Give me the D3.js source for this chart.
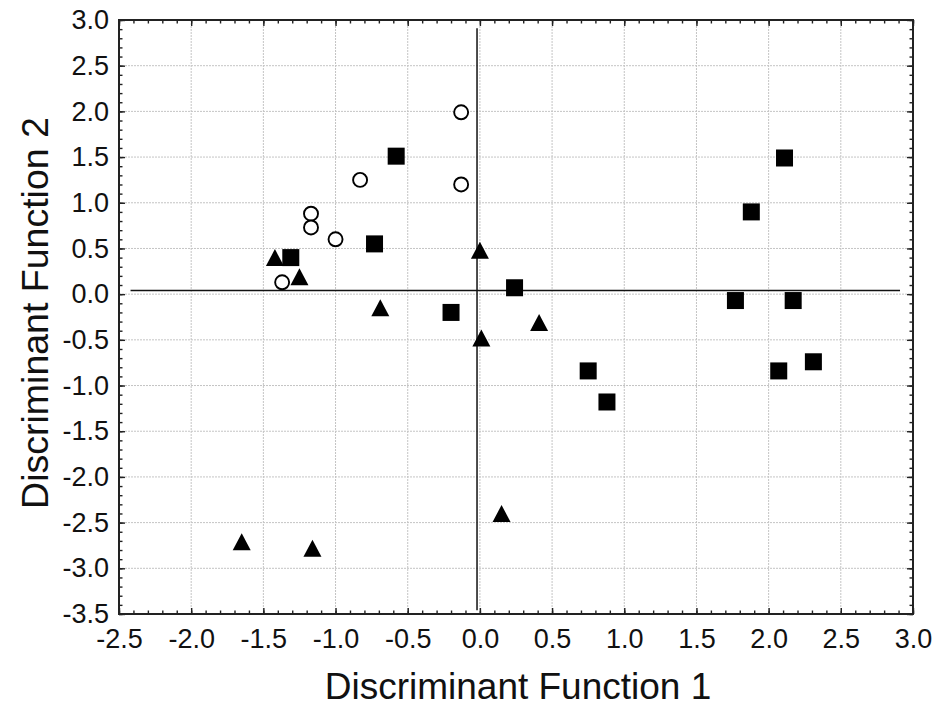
<!DOCTYPE html>
<html>
<head>
<meta charset="utf-8">
<script src="https://cdn.jsdelivr.net/npm/d3@7"></script>
<style>
    body { margin: 0; background: #fff; }
    svg { display: block; font-family: "Liberation Sans", Arial, sans-serif; }
</style>
</head>
<body>
<svg id="chart" width="936" height="710"></svg>
<script>
// group 1 - open circles
const circleX = [-0.13, -0.13, -0.83, -1.17, -1.17, -1.00, -1.37];
const circleY = [1.99, 1.20, 1.25, 0.88, 0.73, 0.60, 0.13];

// group 2 - filled squares
const squareX = [-0.58, -0.73, -1.31, 0.24, -0.20, 2.11, 1.88, 1.77, 2.17, 0.75, 0.88, 2.07, 2.31];
const squareY = [1.51, 0.55, 0.40, 0.07, -0.20, 1.49, 0.90, -0.07, -0.07, -0.84, -1.18, -0.84, -0.74];

// group 3 - filled triangles
const triangleX = [-1.42, -1.25, 0.00, -0.69, 0.01, 0.41, 0.15, -1.65, -1.16];
const triangleY = [0.40, 0.19, 0.48, -0.15, -0.48, -0.31, -2.40, -2.71, -2.78];

// origin reference lines
const hLine = { y: 0.04, x1: -2.42, x2: 2.91 };
const vLine = { x: -0.02, y1: 2.91, y2: -3.46 };

const xTicks = [-2.5, -2.0, -1.5, -1.0, -0.5, 0.0, 0.5, 1.0, 1.5, 2.0, 2.5, 3.0];
const yTicks = [-3.5, -3.0, -2.5, -2.0, -1.5, -1.0, -0.5, 0.0, 0.5, 1.0, 1.5, 2.0, 2.5, 3.0];

const xLabel = "Discriminant Function 1";
const yLabel = "Discriminant Function 2";

const pLeft = 119, pRight = 913, pTop = 20, pBottom = 614;

const svg = d3.select("#chart");

const x = d3.scaleLinear().domain([-2.5, 3.0]).range([pLeft, pRight]);
const y = d3.scaleLinear().domain([-3.5, 3.0]).range([pBottom, pTop]);

const fmt = d => d.toFixed(1);

// minor ticks every 0.1
const xMinor = d3.range(-25, 31).map(i => i / 10);
const yMinor = d3.range(-35, 31).map(i => i / 10);

// grid
const grid = svg.append("g");
grid.selectAll(".gx")
    .data(xTicks.slice(1, -1))
    .enter().append("line")
    .attr("x1", d => x(d)).attr("x2", d => x(d))
    .attr("y1", pTop).attr("y2", pBottom)
    .attr("stroke", "#c4c4c4")
    .attr("stroke-width", 1)
    .attr("stroke-dasharray", "2,1");
grid.selectAll(".gy")
    .data(yTicks.slice(1, -1))
    .enter().append("line")
    .attr("x1", pLeft).attr("x2", pRight)
    .attr("y1", d => y(d)).attr("y2", d => y(d))
    .attr("stroke", "#c4c4c4")
    .attr("stroke-width", 1)
    .attr("stroke-dasharray", "2,1");

// axes with inward ticks
function styleAxis(g) {
    g.select(".domain").remove();
    g.selectAll(".tick line").attr("stroke", "#222").attr("stroke-width", 1.4);
    g.selectAll("text")
        .attr("fill", "#111")
        .style("font-size", "27px")
        .style("font-family", "'Liberation Sans', Arial, sans-serif");
}

svg.append("g").attr("transform", `translate(0,${pBottom})`)
    .call(d3.axisBottom(x).tickValues(xMinor).tickFormat("").tickSize(-3.5))
    .call(styleAxis);
svg.append("g").attr("transform", `translate(0,${pBottom})`)
    .call(d3.axisBottom(x).tickValues(xTicks).tickFormat(fmt).tickSize(-6).tickPadding(15))
    .call(styleAxis);

svg.append("g").attr("transform", `translate(0,${pTop})`)
    .call(d3.axisTop(x).tickValues(xMinor).tickFormat("").tickSize(-3.5))
    .call(styleAxis);
svg.append("g").attr("transform", `translate(0,${pTop})`)
    .call(d3.axisTop(x).tickValues(xTicks).tickFormat("").tickSize(-6))
    .call(styleAxis);

svg.append("g").attr("transform", `translate(${pLeft},0)`)
    .call(d3.axisLeft(y).tickValues(yMinor).tickFormat("").tickSize(-3.5))
    .call(styleAxis);
svg.append("g").attr("transform", `translate(${pLeft},0)`)
    .call(d3.axisLeft(y).tickValues(yTicks).tickFormat(fmt).tickSize(-6).tickPadding(10))
    .call(styleAxis);

svg.append("g").attr("transform", `translate(${pRight},0)`)
    .call(d3.axisRight(y).tickValues(yMinor).tickFormat("").tickSize(-3.5))
    .call(styleAxis);
svg.append("g").attr("transform", `translate(${pRight},0)`)
    .call(d3.axisRight(y).tickValues(yTicks).tickFormat("").tickSize(-6))
    .call(styleAxis);

// frame
svg.append("rect")
    .attr("x", pLeft).attr("y", pTop)
    .attr("width", pRight - pLeft).attr("height", pBottom - pTop)
    .attr("fill", "none")
    .attr("stroke", "#222")
    .attr("stroke-width", 2);

// reference lines
svg.append("line")
    .attr("x1", x(hLine.x1)).attr("x2", x(hLine.x2))
    .attr("y1", y(hLine.y)).attr("y2", y(hLine.y))
    .attr("stroke", "#111").attr("stroke-width", 1.5);
svg.append("line")
    .attr("x1", x(vLine.x)).attr("x2", x(vLine.x))
    .attr("y1", y(vLine.y1)).attr("y2", y(vLine.y2))
    .attr("stroke", "#111").attr("stroke-width", 1.5);

// markers
const squares = squareX.map((v, i) => ({ x: v, y: squareY[i] }));
const triangles = triangleX.map((v, i) => ({ x: v, y: triangleY[i] }));
const circles = circleX.map((v, i) => ({ x: v, y: circleY[i] }));

// triangle 18 wide, 17 tall, centred on its box
const triPath = "M0,-8.5L9,8.5L-9,8.5Z";

svg.append("g").selectAll("path")
    .data(triangles)
    .enter().append("path")
    .attr("d", triPath)
    .attr("transform", d => `translate(${x(d.x)},${y(d.y)})`)
    .attr("fill", "#000");

svg.append("g").selectAll("rect")
    .data(squares)
    .enter().append("rect")
    .attr("x", d => x(d.x) - 8.5)
    .attr("y", d => y(d.y) - 8.5)
    .attr("width", 17)
    .attr("height", 17)
    .attr("fill", "#000");

svg.append("g").selectAll("circle")
    .data(circles)
    .enter().append("circle")
    .attr("cx", d => x(d.x))
    .attr("cy", d => y(d.y))
    .attr("r", 7)
    .attr("fill", "#fff")
    .attr("stroke", "#000")
    .attr("stroke-width", 1.9);

// axis titles
svg.append("text")
    .attr("x", (pLeft + pRight) / 2 + 2)
    .attr("y", 699)
    .attr("text-anchor", "middle")
    .attr("fill", "#111")
    .style("font-size", "37px")
    .text(xLabel);

svg.append("text")
    .attr("transform", "translate(48,313) rotate(-90)")
    .attr("text-anchor", "middle")
    .attr("fill", "#111")
    .style("font-size", "37.5px")
    .text(yLabel);
</script>
</body>
</html>
